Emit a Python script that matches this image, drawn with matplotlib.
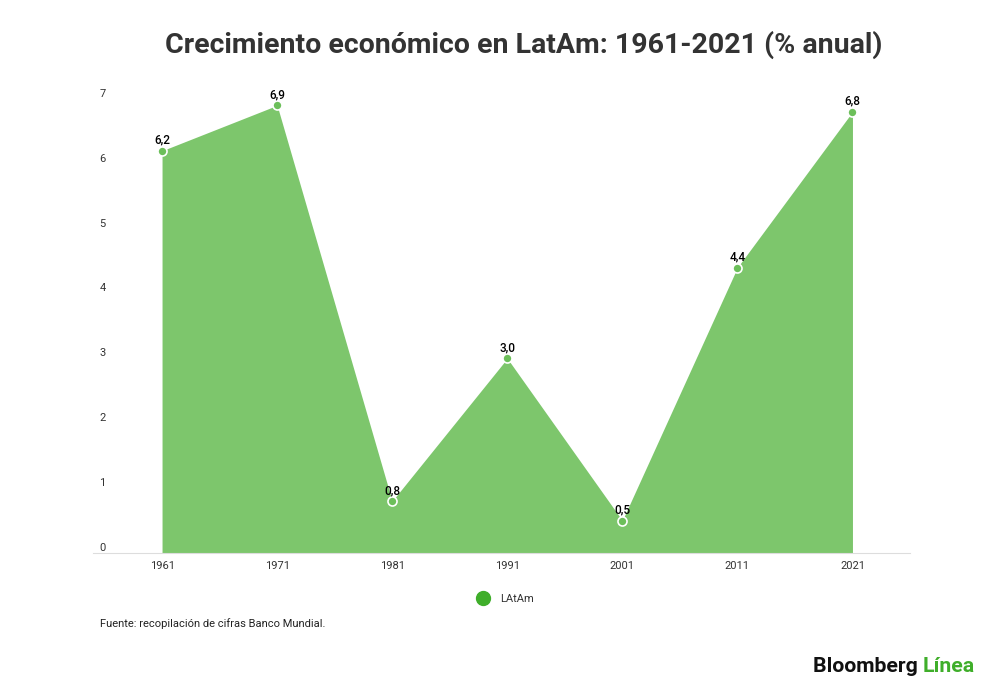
import matplotlib.pyplot as plt
from matplotlib.lines import Line2D

years = ['1961', '1971', '1981', '1991', '2001', '2011', '2021']
growth = [6.2, 6.9, 0.8, 3.0, 0.5, 4.4, 6.8]
labels = ['6,2', '6,9', '0,8', '3,0', '0,5', '4,4', '6,8']
yticks = [0, 1, 2, 3, 4, 5, 6, 7]

fill_color = '#7dc66c'
marker_color = '#6cbf5a'
legend_color = '#3fae2a'

plt.rcParams['font.family'] = ['Roboto', 'DejaVu Sans']

fig = plt.figure(figsize=(10, 6.94), dpi=100)
ax = fig.add_axes([0.093, 1 - 553 / 694, 0.817, (553 - 93) / 694])

x = list(range(len(years)))
ax.fill_between(x, growth, 0, color=fill_color, linewidth=0)
ax.plot(x, growth, linestyle='none', marker='o', markersize=6.5,
        markerfacecolor=marker_color, markeredgecolor='white', markeredgewidth=1.2)

for xi, v, lab in zip(x, growth, labels):
    ax.annotate(lab, (xi, v), xytext=(0, 3), textcoords='offset points',
                ha='center', va='bottom', fontsize=8.5, fontweight='medium',
                color='black')

ax.set_xlim(-0.6, 6.5)
ax.set_ylim(0, 7.09)
ax.set_xticks(x)
ax.set_xticklabels(years, fontsize=8, color='#333333')
ax.set_yticks(yticks)
ax.set_yticklabels([str(t) for t in yticks], fontsize=8, color='#333333')
ax.tick_params(axis='x', length=0, pad=6)
ax.tick_params(axis='y', length=0, pad=-9)
for lbl in ax.get_yticklabels():
    lbl.set_verticalalignment('bottom')

for s in ['top', 'right', 'left']:
    ax.spines[s].set_visible(False)
ax.spines['bottom'].set_color('#dddddd')
ax.spines['bottom'].set_linewidth(0.8)

fig.text(0.524, 1 - 45 / 694, 'Crecimiento económico en LatAm: 1961-2021 (% anual)',
         ha='center', va='center', fontsize=20.5, fontweight='bold', color='#333333')

handle = Line2D([], [], linestyle='none', marker='o', markersize=10,
                markerfacecolor=legend_color, markeredgecolor=legend_color)
fig.legend([handle], ['LAtAm'], loc='center', bbox_to_anchor=(0.503, 1 - 599 / 694),
           frameon=False, fontsize=8, handletextpad=0.6, labelcolor='#333333')

fig.text(0.1, 1 - 624 / 694, 'Fuente: recopilación de cifras Banco Mundial.',
         ha='left', va='center', fontsize=8, color='#222222')

t = fig.text(0.813, 1 - 667 / 694, 'Bloomberg ', ha='left', va='center',
             fontsize=15.3, fontweight='bold', color='#111111')
fig.canvas.draw()
bb = t.get_window_extent()
fig.text(bb.x1 / fig.bbox.width, 1 - 667 / 694, 'Línea', ha='left', va='center',
         fontsize=15.3, fontweight='bold', color='#3fae2a')

fig.savefig('out.png', dpi=100, facecolor='white')
